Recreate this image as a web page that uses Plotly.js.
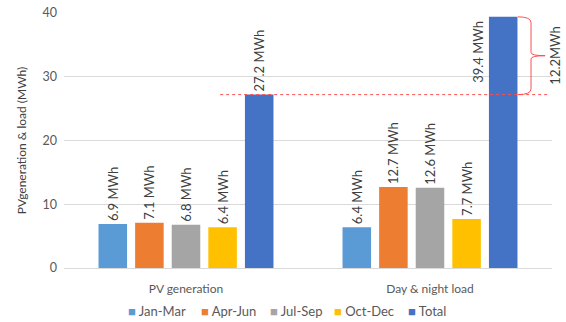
<!DOCTYPE html>
<html><head><meta charset="utf-8">
<script src="https://cdn.plot.ly/plotly-3.0.1.min.js"></script>
<style>html,body{margin:0;padding:0;background:#fff}#c{width:566px;height:322px}</style>
</head><body><div id="c"></div>
<script>
const categories = ["PV generation", "Day & night load"];
const seriesNames = ["Jan-Mar", "Apr-Jun", "Jul-Sep", "Oct-Dec", "Total"];
const janMar = [6.9, 6.4];
const aprJun = [7.1, 12.7];
const julSep = [6.8, 12.6];
const octDec = [6.4, 7.7];
const total = [27.2, 39.4];
const diffLabel = "12.2MWh";
const yTicks = [0, 10, 20, 30, 40];
const colors = ["#5B9BD5", "#ED7D31", "#A5A5A5", "#FFC000", "#4472C4"];
const allSeries = [janMar, aprJun, julSep, octDec, total];
const legendX = [0.128, 0.276, 0.419, 0.550, 0.700];

const fmt = v => v.toFixed(1) + " MWh";
const traces = allSeries.map((vals, i) => ({
  type: "bar",
  name: seriesNames[i],
  x: categories,
  y: vals,
  marker: {color: colors[i]},
  text: vals.map((v, j) => (i === 4 && j === 1) ? "" : fmt(v)),
  textposition: "outside",
  textangle: -90,
  constraintext: "none",
  textfont: {size: 13, color: "#404040"},
  cliponaxis: false,
  hoverinfo: "skip",
  showlegend: false
}));

const red = "#FF5050";
const bxL = 0.930, bx = 0.957, bx2 = 0.986;
const yT = total[1], yB = total[0], yM = (total[0] + total[1]) / 2;
const bracket = `M ${bxL},${yT} Q ${bx},${yT} ${bx},${yT-0.9} L ${bx},${yM+0.5} Q ${bx},${yM} ${bx2},${yM} ` +
                `Q ${bx},${yM} ${bx},${yM-0.5} L ${bx},${yB+0.9} Q ${bx},${yB} ${bxL},${yB}`;

const legendAnn = seriesNames.map((n, i) => ({
  xref: "paper", yref: "paper", x: legendX[i], y: -0.17, xanchor: "left", yanchor: "middle",
  showarrow: false, text: `<span style="color:${colors[i]}">■</span> ${n}`,
  font: {size: 13, color: "#595959"}
}));

const layout = {
  width: 566, height: 322,
  margin: {l: 64, r: 14, t: 13, b: 54, autoexpand: false},
  font: {family: "Lato, 'Open Sans', sans-serif", color: "#595959", size: 12},
  barmode: "group",
  bargap: 0.25,
  bargroupgap: 0.22,
  showlegend: false,
  xaxis: {showline: true, linecolor: "#D9D9D9", ticks: "", ticklabelstandoff: 10,
          tickfont: {size: 12, color: "#595959"}},
  yaxis: {range: [0, 40], tickvals: yTicks, showgrid: true, gridcolor: "#D9D9D9",
          zeroline: false, showline: false, ticks: "", ticklabelstandoff: 6,
          tickfont: {size: 12.5, color: "#595959"},
          title: {text: "PVgeneration & load (MWh)", font: {size: 12, color: "#404040"}, standoff: 13}},
  shapes: [
    {type: "line", xref: "paper", yref: "y", x0: 0.32, x1: 0.99, y0: total[0], y1: total[0],
     line: {color: red, width: 1, dash: "dot"}},
    {type: "path", xref: "paper", yref: "y", path: bracket, line: {color: red, width: 1}}
  ],
  annotations: [
    {xref: "paper", yref: "y", x: 1.006, y: yM, text: diffLabel, textangle: -90,
     showarrow: false, font: {size: 13, color: "#404040"}, xanchor: "center", yanchor: "middle"},
    {xref: "x", yref: "y", x: categories[1], xshift: 48, y: total[1], yshift: -2, text: fmt(total[1]),
     textangle: -90, showarrow: false, font: {size: 13, color: "#404040"}, xanchor: "center", yanchor: "top"}
  ].concat(legendAnn)
};
Plotly.newPlot("c", traces, layout, {displayModeBar: false, staticPlot: true});
</script></body></html>
